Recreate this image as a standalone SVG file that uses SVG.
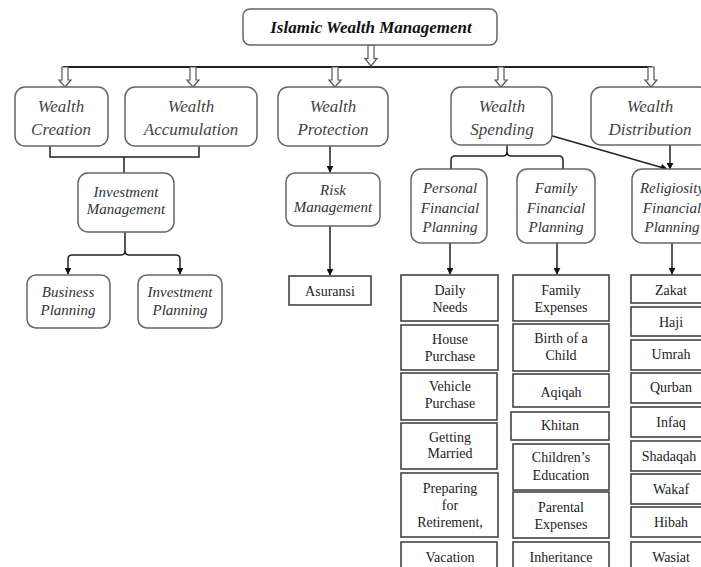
<svg xmlns="http://www.w3.org/2000/svg" width="701" height="567" viewBox="0 0 701 567">
<style>
.rn{fill:#fff;stroke:#666;stroke-width:1.5}
.bx{fill:#fff;stroke:#444;stroke-width:1.6}
.t1{font-family:"Liberation Serif",serif;font-style:italic;font-size:17px;fill:#444;text-anchor:middle}
.t2{font-family:"Liberation Serif",serif;font-style:italic;font-size:15px;fill:#333;text-anchor:middle}
.t3{font-family:"Liberation Serif",serif;font-size:14px;fill:#222;text-anchor:middle}
.ttl{font-family:"Liberation Serif",serif;font-style:italic;font-weight:bold;font-size:17px;fill:#111;text-anchor:middle}
.ln{fill:none;stroke:#222;stroke-width:1.5}
.ha{fill:#fff;stroke:#555;stroke-width:1.2}
</style>
<defs>
<marker id="ah" viewBox="0 0 10 10" refX="9" refY="5" markerWidth="7" markerHeight="7" markerUnits="userSpaceOnUse" orient="auto">
<path d="M0,0 L10,5 L0,10 Z" fill="#111"/>
</marker>
<path id="hollow" d="M-3,-20 L3,-20 L3,-7 L6,-7 L0,0 L-6,-7 L-3,-7 Z"/>
</defs>

<g id="connectors">
<line x1="63" y1="67" x2="652" y2="67" stroke="#222" stroke-width="2"/>
<use href="#hollow" class="ha" transform="translate(371,66) scale(1,1.05)"/>
<use href="#hollow" class="ha" transform="translate(65,87)"/>
<use href="#hollow" class="ha" transform="translate(193,87)"/>
<use href="#hollow" class="ha" transform="translate(335,87)"/>
<use href="#hollow" class="ha" transform="translate(501,87)"/>
<use href="#hollow" class="ha" transform="translate(651,87)"/>
<path class="ln" d="M50,146 V157 H199 V146 M124,157 V173"/>
<path class="ln" d="M125,232 V251 Q125,255 121,255 H72 Q68,255 68,259 V274" marker-end="url(#ah)"/>
<path class="ln" d="M125,251 Q125,255 129,255 H176 Q180,255 180,259 V274" marker-end="url(#ah)"/>
<line class="ln" x1="330" y1="146" x2="330" y2="172" marker-end="url(#ah)"/>
<line class="ln" x1="330" y1="226" x2="330" y2="275" marker-end="url(#ah)"/>
<path class="ln" d="M507,145 V152 Q507,156 503,156 H455 Q451,156 451,160 V170"/>
<path class="ln" d="M507,152 Q507,156 511,156 H559 Q563,156 563,160 V170"/>
<line class="ln" x1="450" y1="243" x2="450" y2="274" marker-end="url(#ah)"/>
<line class="ln" x1="557" y1="243" x2="557" y2="274" marker-end="url(#ah)"/>
<line class="ln" x1="672" y1="243" x2="672" y2="274" marker-end="url(#ah)"/>
<line class="ln" x1="670" y1="145" x2="670" y2="169" marker-end="url(#ah)"/>
<line class="ln" x1="549" y1="135" x2="667" y2="169" marker-end="url(#ah)"/>
</g>

<g id="title"><rect class="rn" x="243" y="9" width="254" height="36" rx="7"/><text class="ttl" x="371" y="33">Islamic Wealth Management</text></g>

<g id="wealth-creation"><rect class="rn" x="15" y="87" width="93" height="59" rx="10"/><text class="t1" x="61" y="112">Wealth</text><text class="t1" x="61" y="135">Creation</text></g>
<g id="wealth-accumulation"><rect class="rn" x="125" y="87" width="132" height="59" rx="10"/><text class="t1" x="191" y="112">Wealth</text><text class="t1" x="191" y="135">Accumulation</text></g>
<g id="wealth-protection"><rect class="rn" x="278" y="87" width="110" height="59" rx="10"/><text class="t1" x="333" y="112">Wealth</text><text class="t1" x="333" y="135">Protection</text></g>
<g id="wealth-spending"><rect class="rn" x="451" y="87" width="101" height="58" rx="10"/><text class="t1" x="502" y="112">Wealth</text><text class="t1" x="502" y="135">Spending</text></g>
<g id="wealth-distribution"><rect class="rn" x="591" y="87" width="118" height="58" rx="10"/><text class="t1" x="650" y="112">Wealth</text><text class="t1" x="650" y="135">Distribution</text></g>

<g id="investment-management"><rect class="rn" x="78" y="173" width="96" height="59" rx="10"/><text class="t2" x="126" y="197">Investment</text><text class="t2" x="126" y="214">Management</text></g>
<g id="business-planning"><rect class="rn" x="27" y="275" width="83" height="53" rx="9"/><text class="t2" x="68" y="297">Business</text><text class="t2" x="68" y="315">Planning</text></g>
<g id="investment-planning"><rect class="rn" x="138" y="275" width="84" height="53" rx="9"/><text class="t2" x="180" y="297">Investment</text><text class="t2" x="180" y="315">Planning</text></g>
<g id="risk-management"><rect class="rn" x="286" y="173" width="94" height="53" rx="9"/><text class="t2" x="333" y="195">Risk</text><text class="t2" x="333" y="212">Management</text></g>
<g id="asuransi"><rect class="bx" x="289" y="276" width="82" height="29"/><text class="t3" x="330" y="296">Asuransi</text></g>

<g id="personal-financial-planning"><rect class="rn" x="411" y="169" width="76" height="74" rx="10"/><text class="t2" x="450" y="193">Personal</text><text class="t2" x="450" y="213">Financial</text><text class="t2" x="450" y="232">Planning</text></g>
<g id="family-financial-planning"><rect class="rn" x="517" y="169" width="78" height="74" rx="10"/><text class="t2" x="556" y="193">Family</text><text class="t2" x="556" y="213">Financial</text><text class="t2" x="556" y="232">Planning</text></g>
<g id="religiosity-financial-planning"><rect class="rn" x="632" y="169" width="80" height="74" rx="10"/><text class="t2" x="672" y="193">Religiosity</text><text class="t2" x="672" y="213">Financial</text><text class="t2" x="672" y="232">Planning</text></g>

<g id="daily-needs"><rect class="bx" x="401" y="275" width="97" height="46"/><text class="t3" x="450" y="295">Daily</text><text class="t3" x="450" y="312">Needs</text></g>
<g id="house-purchase"><rect class="bx" x="401" y="325" width="97" height="45"/><text class="t3" x="450" y="344">House</text><text class="t3" x="450" y="361">Purchase</text></g>
<g id="vehicle-purchase"><rect class="bx" x="401" y="373" width="96" height="47"/><text class="t3" x="450" y="391">Vehicle</text><text class="t3" x="450" y="408">Purchase</text></g>
<g id="getting-married"><rect class="bx" x="401" y="423" width="96" height="46"/><text class="t3" x="450" y="442">Getting</text><text class="t3" x="450" y="458">Married</text></g>
<g id="preparing-retirement"><rect class="bx" x="401" y="473" width="97" height="64"/><text class="t3" x="450" y="493">Preparing</text><text class="t3" x="450" y="510">for</text><text class="t3" x="450" y="527">Retirement,</text></g>
<g id="vacation"><rect class="bx" x="401" y="542" width="96" height="40"/><text class="t3" x="450" y="562">Vacation</text></g>

<g id="family-expenses"><rect class="bx" x="513" y="275" width="96" height="46"/><text class="t3" x="561" y="295">Family</text><text class="t3" x="561" y="312">Expenses</text></g>
<g id="birth-of-a-child"><rect class="bx" x="513" y="324" width="96" height="47"/><text class="t3" x="561" y="343">Birth of a</text><text class="t3" x="561" y="360">Child</text></g>
<g id="aqiqah"><rect class="bx" x="513" y="374" width="96" height="33"/><text class="t3" x="561" y="397">Aqiqah</text></g>
<g id="khitan"><rect class="bx" x="511" y="412" width="98" height="28"/><text class="t3" x="560" y="430">Khitan</text></g>
<g id="childrens-education"><rect class="bx" x="513" y="444" width="96" height="46"/><text class="t3" x="561" y="462">Children’s</text><text class="t3" x="561" y="480">Education</text></g>
<g id="parental-expenses"><rect class="bx" x="513" y="492" width="96" height="46"/><text class="t3" x="561" y="512">Parental</text><text class="t3" x="561" y="529">Expenses</text></g>
<g id="inheritance"><rect class="bx" x="513" y="542" width="96" height="40"/><text class="t3" x="561" y="562">Inheritance</text></g>

<g id="zakat"><rect class="bx" x="631" y="275" width="80" height="28"/><text class="t3" x="671" y="295">Zakat</text></g>
<g id="haji"><rect class="bx" x="631" y="307" width="80" height="29"/><text class="t3" x="671" y="327">Haji</text></g>
<g id="umrah"><rect class="bx" x="631" y="340" width="80" height="30"/><text class="t3" x="671" y="359">Umrah</text></g>
<g id="qurban"><rect class="bx" x="631" y="373" width="80" height="30"/><text class="t3" x="671" y="392">Qurban</text></g>
<g id="infaq"><rect class="bx" x="631" y="407" width="80" height="30"/><text class="t3" x="671" y="427">Infaq</text></g>
<g id="shadaqah"><rect class="bx" x="631" y="441" width="80" height="30"/><text class="t3" x="669" y="461">Shadaqah</text></g>
<g id="wakaf"><rect class="bx" x="631" y="474" width="80" height="30"/><text class="t3" x="671" y="494">Wakaf</text></g>
<g id="hibah"><rect class="bx" x="631" y="507" width="80" height="30"/><text class="t3" x="671" y="527">Hibah</text></g>
<g id="wasiat"><rect class="bx" x="631" y="542" width="80" height="40"/><text class="t3" x="671" y="562">Wasiat</text></g>
</svg>
